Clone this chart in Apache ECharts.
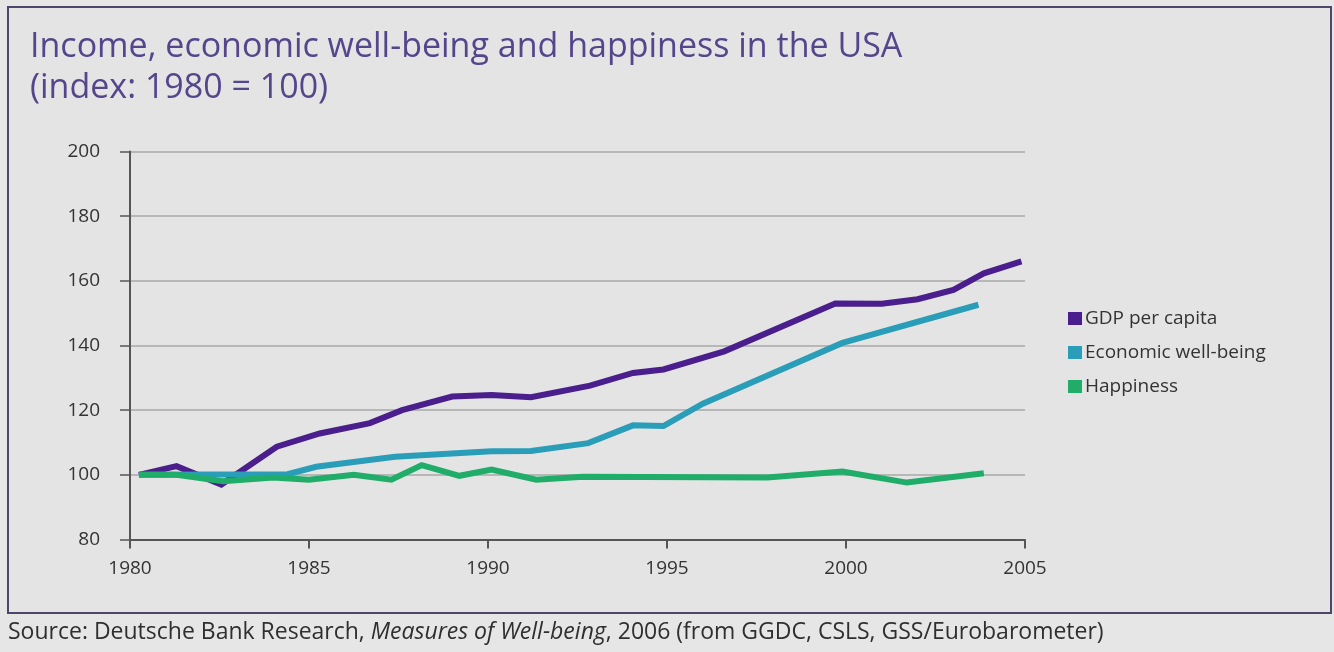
<!DOCTYPE html>
<html>
<head>
<meta charset="utf-8">
<script src="https://cdn.jsdelivr.net/npm/echarts@6/dist/echarts.min.js"></script>
<style>html,body{margin:0;padding:0;background:#e6e6e6;}#c{width:1334px;height:652px;}</style>
</head>
<body>
<div id="c"></div>
<script>
// Data (year, index value; 1980 = 100)
const gdpYears = [1980.25, 1981.3, 1982.55, 1984.1, 1985.3, 1986.7, 1987.6, 1989.0, 1990.1, 1991.2, 1992.85, 1994.05, 1994.9, 1996.6, 1999.7, 2001.0, 2002.0, 2003.0, 2003.85, 2004.9];
const gdpValues = [100, 102.7, 97, 108.7, 112.8, 116, 120, 124.2, 124.7, 124, 127.6, 131.5, 132.6, 138.2, 153, 152.9, 154.3, 157.2, 162.3, 166];

const ewbYears = [1980.25, 1984.4, 1985.2, 1987.4, 1990.1, 1991.2, 1992.8, 1994.05, 1994.9, 1996.0, 1999.9, 2003.7];
const ewbValues = [100, 100.2, 102.5, 105.6, 107.3, 107.4, 109.8, 115.3, 115.1, 122, 140.8, 152.6];

const hapYears = [1980.25, 1981.3, 1982.6, 1984.0, 1985.0, 1986.25, 1987.3, 1988.15, 1989.2, 1990.1, 1991.35, 1992.65, 1997.8, 1999.9, 2001.7, 2003.85];
const hapValues = [100, 100, 98, 99.2, 98.5, 100, 98.5, 103, 99.7, 101.6, 98.5, 99.4, 99.2, 101, 97.6, 100.5];

const seriesNames = ['GDP per capita', 'Economic well-being', 'Happiness'];
const seriesColors = ['#4a1e8c', '#2a9db8', '#20ad6a'];
const yTicks = [80, 100, 120, 140, 160, 180, 200];
const xTicks = [1980, 1985, 1990, 1995, 2000, 2005];

const titleLines = ['Income, economic well-being and happiness in the USA', '(index: 1980 = 100)'];
const sourceText = ['Source: Deutsche Bank Research, ', 'Measures of Well-being', ', 2006 (from GGDC, CSLS, GSS/Eurobarometer)'];

function pairs(xs, ys) { return xs.map((x, i) => [x, ys[i]]); }

const FONT = 'Open Sans';
const chart = echarts.init(document.getElementById('c'));
chart.setOption({
  animation: false,
  backgroundColor: '#e6e6e6',
  textStyle: { fontFamily: FONT },
  graphic: [
    { type: 'rect', shape: { x: 8, y: 7, width: 1323, height: 606 },
      style: { fill: '#e4e4e4', stroke: '#4e4568', lineWidth: 2 }, z: -10 },
    { type: 'text', left: 8, top: 621,
      style: { rich: { n: { fontFamily: FONT, fontSize: 23, fill: '#2f2f2f' }, i: { fontFamily: FONT, fontSize: 23, fill: '#2f2f2f', fontStyle: 'italic' } },
        text: '{n|' + sourceText[0] + '}{i|' + sourceText[1] + '}{n|' + sourceText[2] + '}' } }
  ],
  title: {
    text: titleLines.join('\n'),
    left: 25, top: 22,
    textStyle: { fontFamily: FONT, fontSize: 34, fontWeight: 'normal', color: '#55468c', lineHeight: 41 }
  },
  legend: {
    orient: 'vertical', left: 1063, top: 303,
    icon: 'rect', itemWidth: 14, itemHeight: 13, itemGap: 13,
    textStyle: { fontFamily: FONT, fontSize: 19, color: '#333', lineHeight: 21, padding: [0, 0, 0, -2] },
    data: seriesNames
  },
  grid: { left: 130, right: 309, top: 151.5, bottom: 112.5 },
  xAxis: {
    type: 'value', min: xTicks[0], max: xTicks[xTicks.length - 1], interval: 5,
    axisLine: { lineStyle: { color: '#555', width: 2 } },
    axisTick: { show: true, length: 9, lineStyle: { color: '#555', width: 2 } },
    axisLabel: { fontFamily: FONT, fontSize: 19, color: '#333', margin: 20, formatter: v => String(v) },
    splitLine: { show: false }
  },
  yAxis: {
    type: 'value', min: yTicks[0], max: yTicks[yTicks.length - 1], interval: 20,
    axisLine: { show: true, lineStyle: { color: '#555', width: 2 } },
    axisTick: { show: true, length: 10, lineStyle: { color: '#555', width: 1.5 } },
    axisLabel: { fontFamily: FONT, fontSize: 19, color: '#333', margin: 30 },
    splitLine: { show: true, lineStyle: { color: '#a8a8a8', width: 1.5 } }
  },
  series: [
    { name: seriesNames[0], type: 'line', data: pairs(gdpYears, gdpValues), showSymbol: false, color: seriesColors[0],
      lineStyle: { width: 6, color: seriesColors[0], join: 'miter' }, z: 3 },
    { name: seriesNames[1], type: 'line', data: pairs(ewbYears, ewbValues), showSymbol: false, color: seriesColors[1],
      lineStyle: { width: 6, color: seriesColors[1], join: 'miter' }, z: 4 },
    { name: seriesNames[2], type: 'line', data: pairs(hapYears, hapValues), showSymbol: false, color: seriesColors[2],
      lineStyle: { width: 6, color: seriesColors[2], join: 'miter' }, z: 5 }
  ]
});
</script>
</body>
</html>
